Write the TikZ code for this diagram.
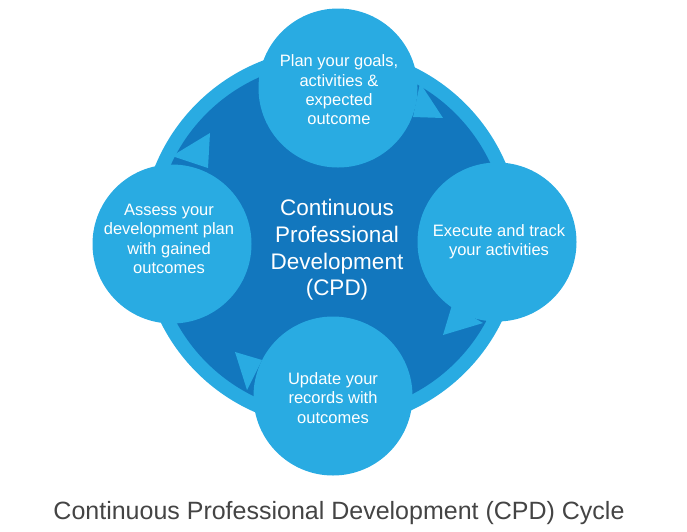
\documentclass[tikz,border=0pt]{standalone}
\usepackage{fontspec}
\setmainfont{Liberation Sans}
\usetikzlibrary{positioning}
\definecolor{ringblue}{HTML}{29ABE2}
\definecolor{coreblue}{HTML}{1277BE}
\definecolor{captiongray}{HTML}{444444}

\begin{document}
\begin{tikzpicture}[x=1pt,y=-1pt,
  bubble/.style={circle,fill=ringblue,minimum size=159pt,inner sep=0pt},
  steptext/.style={text=white,align=center,font=\fontsize{16.5}{19.3}\selectfont},
  every node/.style={font=\small}]
\useasboundingbox (0,0) rectangle (687,531);
\coordinate (c0) at (331,238);
\fill[ringblue] (c0) circle[radius=190pt];
\fill[coreblue] (c0) circle[radius=176pt];
% tails of the four bubbles
\fill[ringblue] (420,83)--(443,118)--(413,117)--cycle;
\fill[ringblue] (452,305)--(443,335)--(483,323)--cycle;
\fill[ringblue] (262,360)--(235,352)--(247,390)--cycle;
\fill[ringblue] (172,156)--(210,133)--(208,168)--cycle;
\node[bubble] (plan) at (338,88) {};
\node[bubble] (execute) at (497,242) {};
\node[bubble] (update) at (333,396) {};
\node[bubble] (assess) at (172,244) {};
\node[steptext] (plan text) at (339,90) {Plan your goals,\\activities \&\\expected\\outcome};
\node[steptext] (execute text) at (499,242) {Execute and track\\your activities};
\node[steptext] (update text) at (333,398) {Update your\\records with\\outcomes};
\node[steptext] (assess text) at (169,239) {Assess your\\development plan\\with gained\\outcomes};
\node[text=white,align=center,font=\fontsize{22.5}{26.7}\selectfont] (cpd) at (337,250) {Continuous\\Professional\\Development\\(CPD)};
\node[text=captiongray,font=\fontsize{25}{30}\selectfont] (caption) at (339,513) {Continuous Professional Development (CPD) Cycle};
\end{tikzpicture}
\end{document}
